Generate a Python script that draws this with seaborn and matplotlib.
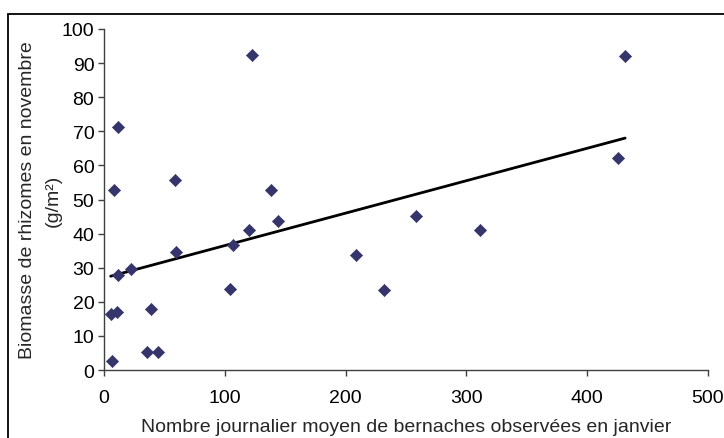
import numpy as np
import pandas as pd
import matplotlib
matplotlib.use("Agg")
import matplotlib.pyplot as plt
import matplotlib.patches as patches
import seaborn as sns

# Donnees
bernaches = [5.5, 10.5, 6.3, 11.6, 8.5, 11.6, 22.6, 35.5, 44.4, 39.1, 58.7, 59.8,
             104.4, 107.2, 119.8, 122.3, 138.6, 144.1, 208.5, 231.7, 258.1, 311.6,
             425.1, 431.4]
biomasse = [16.5, 17.0, 2.6, 71.3, 52.7, 27.8, 29.7, 5.4, 5.4, 18.0, 55.8, 34.7,
            23.8, 36.8, 41.0, 92.5, 52.7, 43.7, 33.7, 23.4, 45.1, 41.0,
            62.3, 92.0]
x_ticks = [0, 100, 200, 300, 400, 500]
y_ticks = list(range(0, 101, 10))

df = pd.DataFrame({"x": bernaches, "y": biomasse})

sns.set_style("white")
plt.rcParams['font.family'] = ['Liberation Sans', 'DejaVu Sans']

fig = plt.figure(figsize=(7.24, 4.39), dpi=100)
ax = fig.add_axes([104/724, 1 - 371/439, (708 - 104)/724, (371 - 30)/439])

sns.regplot(data=df, x="x", y="y", ax=ax, scatter=False, ci=None,
            line_kws={"color": "black", "lw": 2})
sns.scatterplot(data=df, x="x", y="y", ax=ax, marker="D", s=38,
                color="#35356b", edgecolor="#35356b", linewidth=0.5, zorder=3)

ax.set_xlim(0, 500)
ax.set_ylim(0, 100)
ax.set_xticks(x_ticks)
ax.set_yticks(y_ticks)
ax.tick_params(axis="both", labelsize=14, colors="#404040", labelcolor="black",
               direction="out", length=4, width=1, left=True, bottom=True, pad=3)
ax.tick_params(axis="x", pad=10)
for s in ["top", "right"]:
    ax.spines[s].set_visible(False)
for s in ["left", "bottom"]:
    ax.spines[s].set_color("#404040")
    ax.spines[s].set_linewidth(1)

ax.set_xlabel("Nombre journalier moyen de bernaches observées en janvier",
              fontsize=14, labelpad=8)
ax.set_ylabel("Biomasse de rhizomes en novembre\n(g/m²)", fontsize=14,
              labelpad=0, linespacing=1.64)

# cadre du graphique (style Excel)
fig.patches.append(patches.Rectangle((7.5/724, -0.1), 1.2, 1 - 14.5/439 + 0.1,
                                     transform=fig.transFigure, fill=False,
                                     edgecolor="black", lw=1.3))

fig.savefig("out.png", dpi=100)
